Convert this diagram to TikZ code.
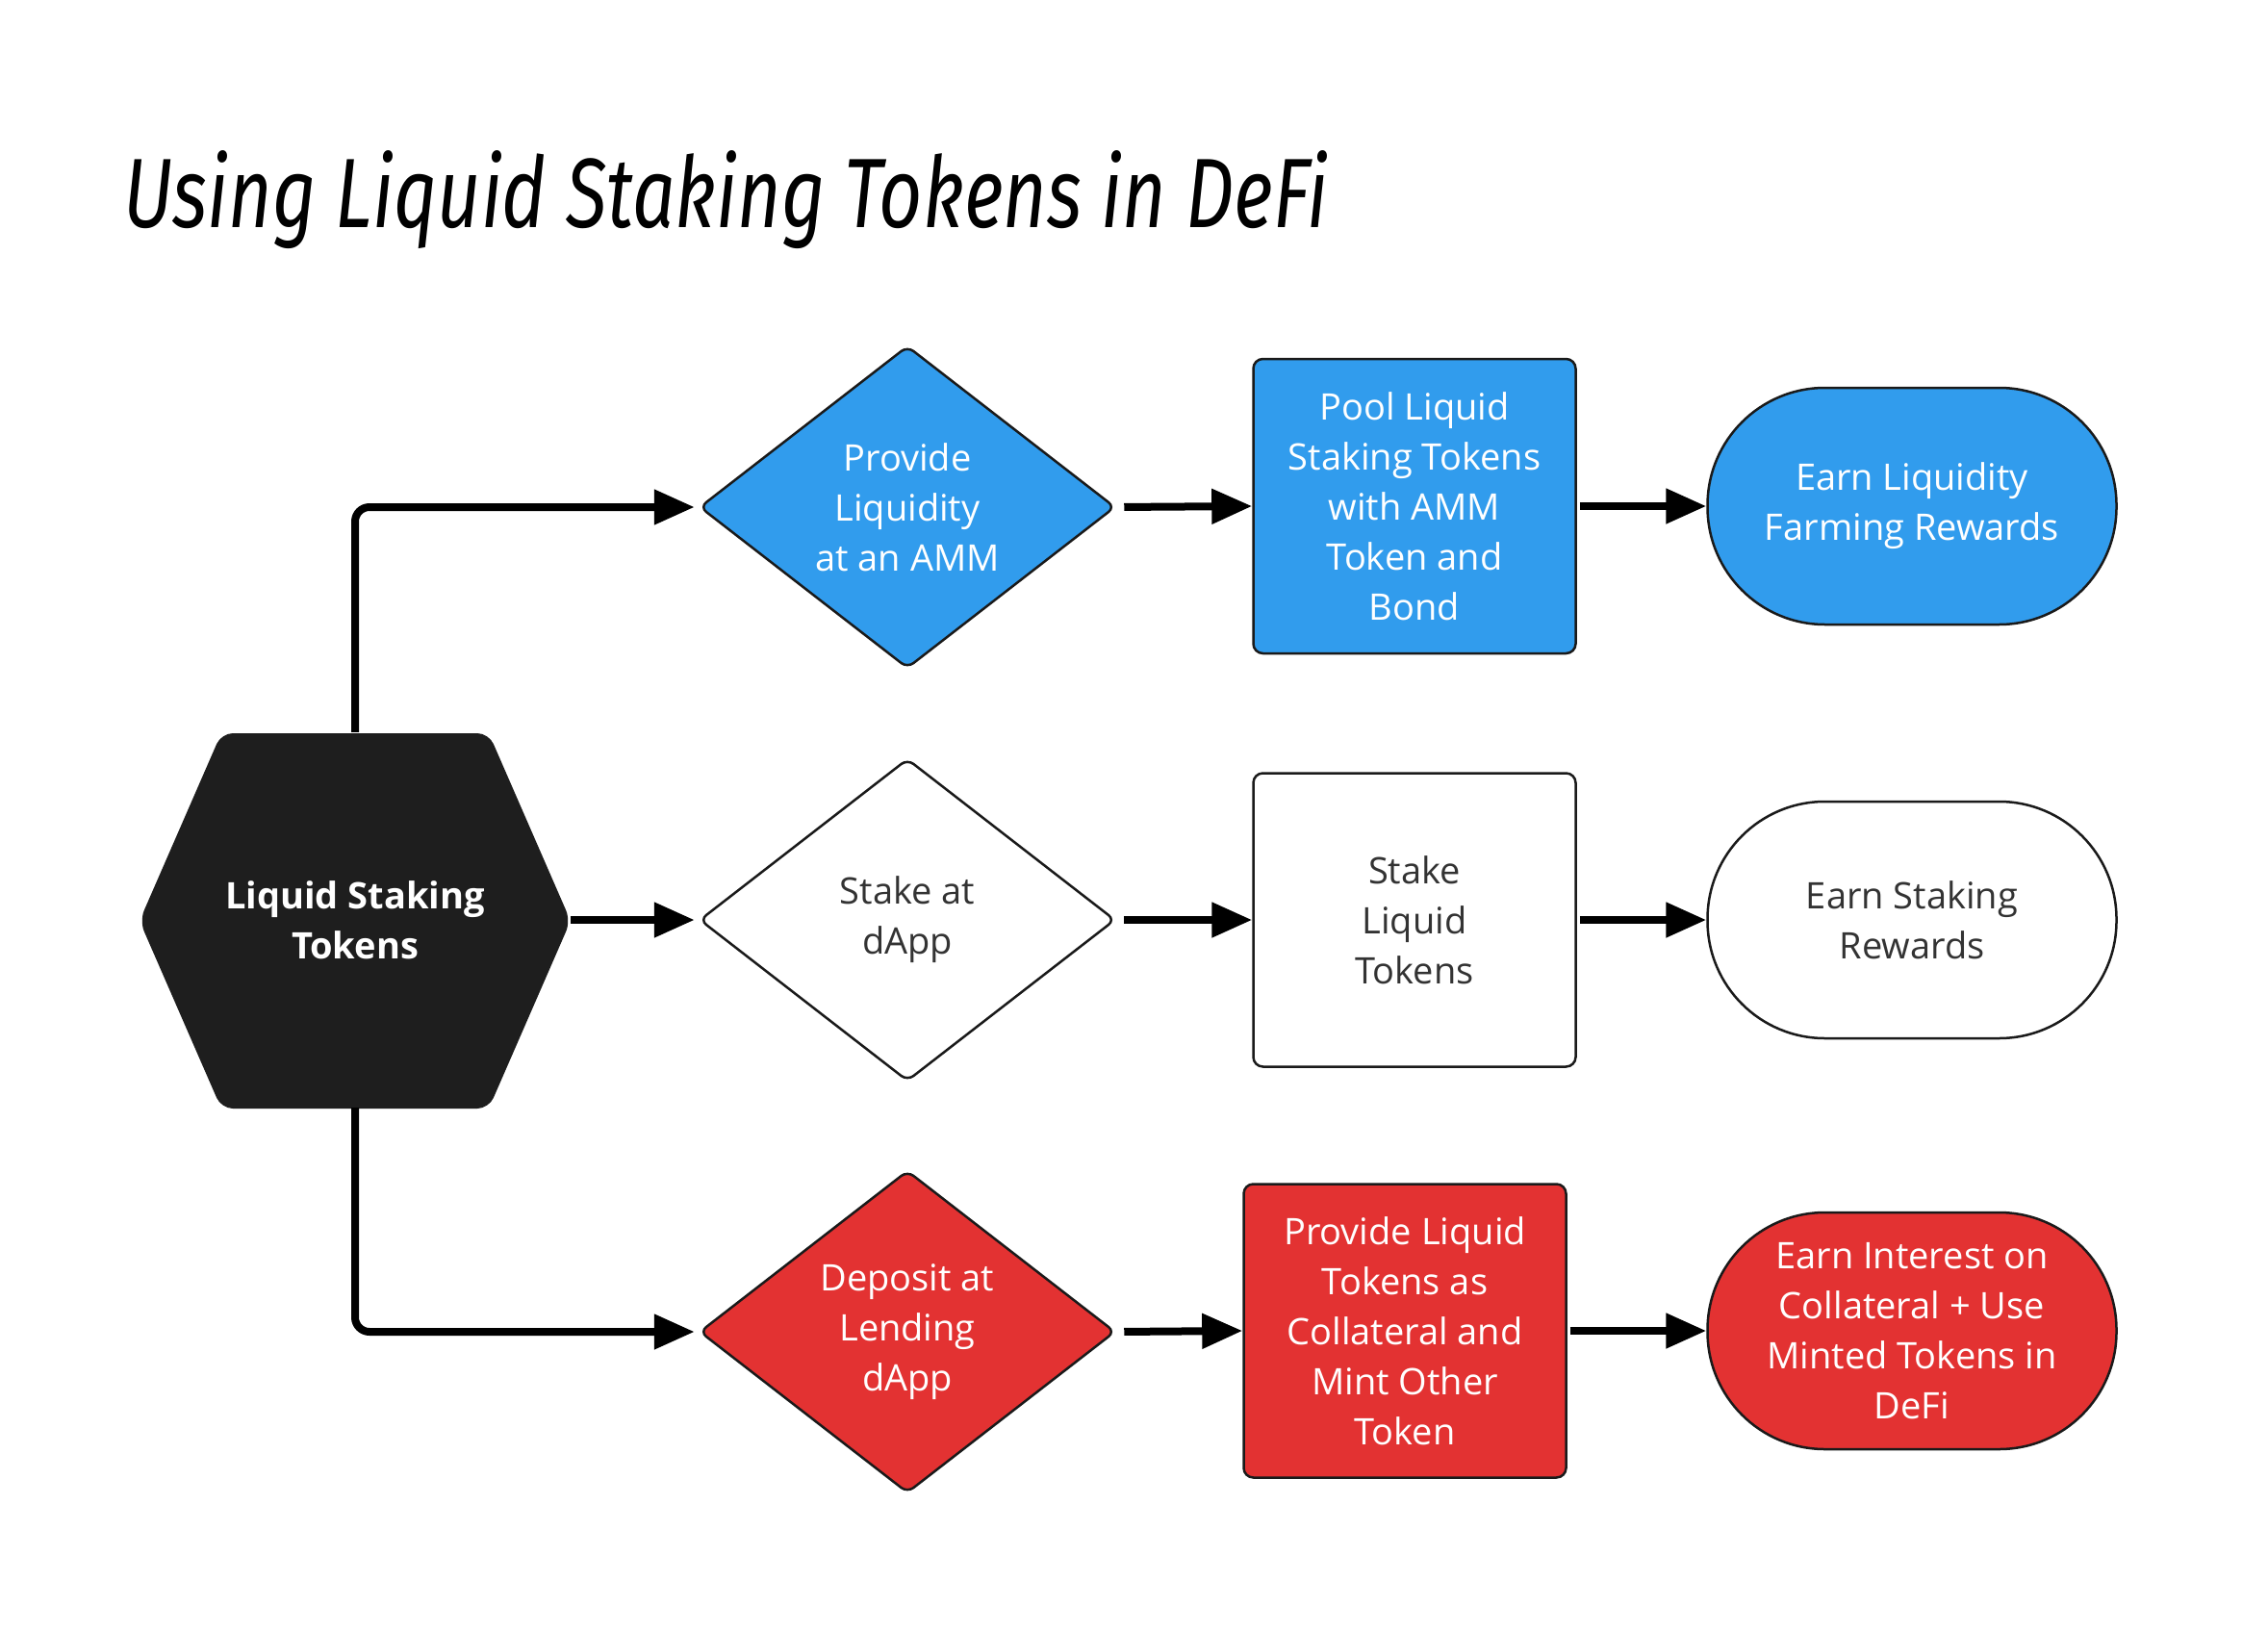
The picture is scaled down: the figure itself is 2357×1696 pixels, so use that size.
\documentclass[tikz,border=0pt]{standalone}
\usepackage{fontspec}
\setmainfont{Open Sans}
\newfontfamily\titlefont{Fira Sans}
\usetikzlibrary{arrows.meta,shapes.geometric}
\definecolor{lblue}{HTML}{319CED}
\definecolor{lred}{HTML}{E33232}
\definecolor{hexfill}{HTML}{1E1E1E}
\definecolor{edge}{HTML}{1A1A1A}
\definecolor{graytext}{HTML}{333333}
\tikzset{
  lbl/.style={align=center,font=\fontsize{38}{52}\selectfont},
  dia/.style={shape=diamond,draw=edge,line width=2.5pt,rounded corners=8pt,minimum width=432pt,minimum height=335pt,inner sep=0pt,lbl},
  box/.style={shape=rectangle,draw=edge,line width=2.5pt,rounded corners=10pt,minimum width=335pt,minimum height=305pt,inner sep=0pt,lbl},
  pill/.style={shape=rectangle,draw=edge,line width=2.5pt,rounded corners=122pt,minimum width=425pt,minimum height=246pt,inner sep=0pt,lbl},
  bluef/.style={fill=lblue,text=white},
  redf/.style={fill=lred,text=white},
  whitef/.style={fill=white,text=graytext},
  arr/.style={draw=black,line width=8pt,-{Triangle[length=42pt,width=35pt]}},
}
\begin{document}
\begin{tikzpicture}[x=1pt,y=-1pt]
\useasboundingbox (0,0) rectangle (2357,1696);
\fill[white] (0,0) rectangle (2357,1696);
% title
\node[anchor=north west,inner sep=0pt] (title) at (128,156)
  {\resizebox*{1252pt}{102pt}{\titlefont\itshape Using Liquid Staking Tokens in DeFi}};
% hexagon
\fill[hexfill,rounded corners=12pt] (145,957) -- (230,762) -- (508,762) -- (593,957) -- (508,1152) -- (230,1152) -- cycle;
\node[shape=rectangle,minimum width=448pt,minimum height=390pt,inner sep=0pt,text=white,align=center,font=\fontsize{38}{52}\selectfont\bfseries] (hex) at (369,956) {Liquid Staking\\Tokens};
% row 1
\node[dia,bluef] (d1) at (943,527) {Provide\\Liquidity\\at an AMM};
\node[box,bluef,minimum height=306pt] (b1) at (1470,526) {Pool Liquid\\Staking Tokens\\with AMM\\Token and\\Bond};
\node[pill,bluef] (p1) at (1987,526) {Earn Liquidity\\Farming Rewards};
% row 2
\node[dia,whitef] (d2) at (943,956) {Stake at\\dApp};
\node[box,whitef] (b2) at (1470,956) {Stake\\Liquid\\Tokens};
\node[pill,whitef] (p2) at (1987,956) {Earn Staking\\Rewards};
% row 3
\node[dia,redf] (d3) at (943,1384) {Deposit at\\Lending\\dApp};
\node[box,redf] (b3) at (1460,1383) {Provide Liquid\\Tokens as\\Collateral and\\Mint Other\\Token};
\node[pill,redf] (p3) at (1987,1383) {Earn Interest on\\Collateral + Use\\Minted Tokens in\\DeFi};
% connectors
\draw[arr,rounded corners=15pt] (hex.north) |- ([xshift=-4pt]d1.west);
\draw[arr] (hex.east) -- ([xshift=-4pt]d2.west);
\draw[arr,rounded corners=15pt] (hex.south) |- ([xshift=-4pt]d3.west);
\draw[arr,shorten <=8pt] (d1.east) -- (b1.west);
\draw[arr,shorten <=8pt] (d2.east) -- (b2.west);
\draw[arr,shorten <=8pt] (d3.east) -- (b3.west);
\draw[arr,shorten <=3pt] (b1.east) -- (p1.west);
\draw[arr,shorten <=3pt] (b2.east) -- (p2.west);
\draw[arr,shorten <=3pt] (b3.east) -- (p3.west);
\end{tikzpicture}
\end{document}
